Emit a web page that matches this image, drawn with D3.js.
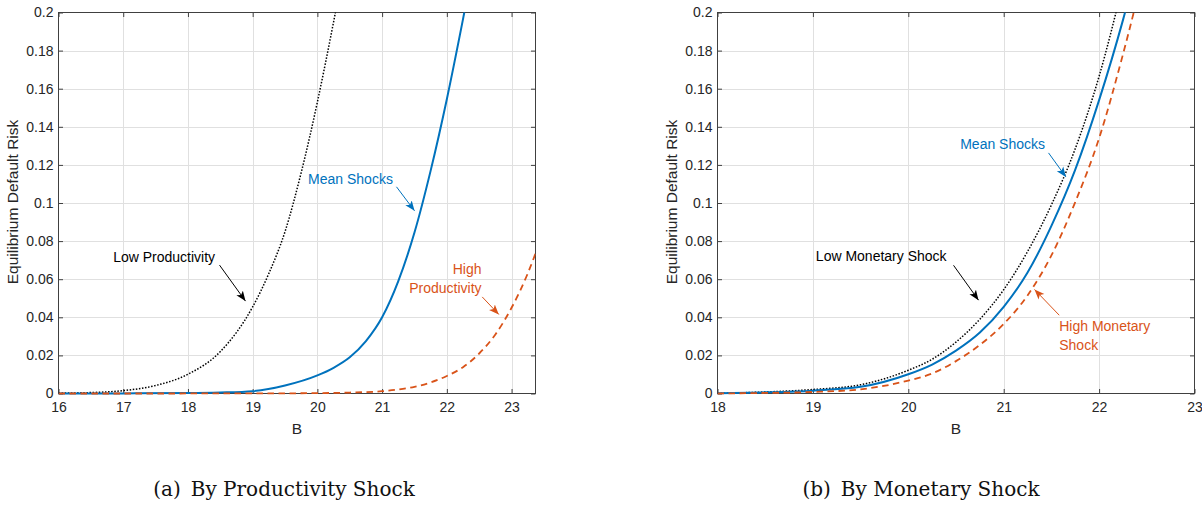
<!DOCTYPE html>
<html>
<head>
<meta charset="utf-8">
<script src="https://cdn.jsdelivr.net/npm/d3@7"></script>
<style>
  body { margin: 0; background: #fff; }
  svg { display: block; }
</style>
</head>
<body>
<div id="chart"></div>
<script>
// ---- values ----
const yTicks = [0, 0.02, 0.04, 0.06, 0.08, 0.1, 0.12, 0.14, 0.16, 0.18, 0.2];
const yTickLabels = ["0", "0.02", "0.04", "0.06", "0.08", "0.1", "0.12", "0.14", "0.16", "0.18", "0.2"];
const xTicksA = [16, 17, 18, 19, 20, 21, 22, 23];
const xTicksB = [18, 19, 20, 21, 22, 23];

// panel (a): by productivity shock
const lowProdB = [16, 16.5, 17, 17.5, 18, 18.5, 19, 19.25, 19.5, 19.75, 20, 20.25, 20.5];
const lowProdV = [0.0002, 0.0005, 0.0015, 0.0042, 0.0101, 0.022, 0.0455, 0.063, 0.085, 0.116, 0.153, 0.195, 0.24];
const meanAB = [16, 17, 18, 18.5, 19, 19.5, 20, 20.25, 20.5, 20.75, 21, 21.25, 21.5, 21.75, 22, 22.25, 22.5];
const meanAV = [0, 0.00005, 0.0002, 0.0005, 0.0012, 0.0042, 0.0095, 0.0135, 0.019, 0.0275, 0.040, 0.059, 0.0845, 0.117, 0.1545, 0.1965, 0.241];
const highProdB = [16, 19, 20, 20.5, 21, 21.25, 21.5, 21.75, 22, 22.25, 22.5, 22.75, 23, 23.25, 23.37];
const highProdV = [0, 0.00003, 0.0002, 0.0005, 0.0012, 0.0021, 0.0035, 0.0058, 0.0092, 0.0138, 0.021, 0.031, 0.045, 0.063, 0.0735];

// panel (b): by monetary shock
const monB = [18, 18.5, 19, 19.5, 20, 20.25, 20.5, 20.75, 21, 21.25, 21.5, 21.75, 22, 22.25, 22.5];
const lowMonV = [0.0001, 0.0008, 0.0021, 0.0046, 0.0122, 0.018, 0.027, 0.039, 0.0545, 0.0745, 0.099, 0.1285, 0.1665, 0.215, 0.27];
const meanBV = [0.0001, 0.0006, 0.0015, 0.0035, 0.0101, 0.0152, 0.0225, 0.032, 0.0455, 0.0635, 0.088, 0.1175, 0.154, 0.196, 0.245];
const highMonV = [0, 0.0003, 0.0008, 0.0022, 0.0068, 0.0105, 0.017, 0.0255, 0.0365, 0.0515, 0.0725, 0.1005, 0.134, 0.178, 0.228];

const BLUE = "#0072BD", ORANGE = "#D95319", BLACK = "#000000";
const FONT = "'Liberation Sans', Arial, Helvetica, sans-serif";

const svg = d3.select("#chart").append("svg")
    .attr("width", 1202)
    .attr("height", 505);

// arrow heads
const defs = svg.append("defs");
[["blk", BLACK], ["blu", BLUE], ["org", ORANGE]].forEach(function(m) {
    defs.append("marker")
        .attr("id", "head-" + m[0])
        .attr("markerUnits", "userSpaceOnUse")
        .attr("markerWidth", 11).attr("markerHeight", 9)
        .attr("refX", 10).attr("refY", 4.5)
        .attr("orient", "auto")
        .append("path")
        .attr("d", "M0,0.5 L10,4.5 L0,8.5 L2.5,4.5 Z")
        .attr("fill", m[1]);
});

function drawPanel(cfg) {
    const top = 12.5, bottom = 393.5;
    const x = d3.scaleLinear().domain(cfg.xDomain).range([cfg.left, cfg.right]);
    const y = d3.scaleLinear().domain([0, 0.2]).range([bottom, top]);
    const g = svg.append("g");

    // grid
    g.append("g").selectAll("line.gx")
        .data(cfg.xTicks.filter(d => x(d) > cfg.left + 1 && x(d) < cfg.right - 1))
        .join("line")
        .attr("x1", d => Math.round(x(d)) + 0.5).attr("x2", d => Math.round(x(d)) + 0.5)
        .attr("y1", top).attr("y2", bottom)
        .attr("stroke", "#e0e0e0").attr("stroke-width", 1);
    g.append("g").selectAll("line.gy")
        .data(yTicks.slice(1, -1))
        .join("line")
        .attr("x1", cfg.left).attr("x2", cfg.right)
        .attr("y1", d => Math.round(y(d)) + 0.5).attr("y2", d => Math.round(y(d)) + 0.5)
        .attr("stroke", "#e0e0e0").attr("stroke-width", 1);

    // axes with inward ticks
    const styleAxis = function(sel) {
        sel.select(".domain").remove();
        sel.selectAll(".tick line").attr("stroke", "#404040");
        sel.selectAll("text")
            .attr("fill", "#262626")
            .style("font-family", FONT)
            .style("font-size", "14px");
    };
    g.append("g").attr("transform", "translate(0," + bottom + ")")
        .call(d3.axisBottom(x).tickValues(cfg.xTicks).tickSize(-4.5).tickPadding(9).tickFormat(d3.format("d")))
        .call(styleAxis);
    g.append("g").attr("transform", "translate(0," + top + ")")
        .call(d3.axisTop(x).tickValues(cfg.xTicks).tickSize(-4.5).tickFormat(""))
        .call(styleAxis);
    g.append("g").attr("transform", "translate(" + cfg.left + ",0)")
        .call(d3.axisLeft(y).tickValues(yTicks).tickSize(-4.5).tickPadding(5).tickFormat((d, i) => yTickLabels[i]))
        .call(styleAxis);
    g.append("g").attr("transform", "translate(" + cfg.right + ",0)")
        .call(d3.axisRight(y).tickValues(yTicks).tickSize(-4.5).tickFormat(""))
        .call(styleAxis);

    // box
    g.append("rect")
        .attr("x", cfg.left).attr("y", top)
        .attr("width", cfg.right - cfg.left).attr("height", bottom - top)
        .attr("fill", "none").attr("stroke", "#404040").attr("stroke-width", 1);

    // axis labels
    g.append("text")
        .attr("x", (cfg.left + cfg.right) / 2).attr("y", 434)
        .attr("text-anchor", "middle")
        .style("font-family", FONT).style("font-size", "15.5px").attr("fill", "#262626")
        .text("B");
    g.append("text")
        .attr("transform", "translate(" + (cfg.left - 41) + "," + 202 + ") rotate(-90)")
        .attr("text-anchor", "middle")
        .style("font-family", FONT).style("font-size", "15.5px").attr("fill", "#262626")
        .text("Equilibrium Default Risk");

    // curves
    const clipId = "clip-" + cfg.id;
    defs.append("clipPath").attr("id", clipId)
        .append("rect")
        .attr("x", cfg.left).attr("y", top)
        .attr("width", cfg.right - cfg.left).attr("height", bottom - top + 3);

    const line = d3.line()
        .x(d => x(d[0]))
        .y(d => y(d[1]))
        .curve(d3.curveMonotoneX);

    g.append("g").attr("clip-path", "url(#" + clipId + ")")
        .selectAll("path")
        .data(cfg.series)
        .join("path")
        .attr("d", s => line(d3.zip(s.b, s.v)))
        .attr("fill", "none")
        .attr("stroke", s => s.color)
        .attr("stroke-width", s => s.width)
        .attr("stroke-dasharray", s => s.dash);

    // annotations
    cfg.notes.forEach(function(n) {
        const t = g.append("text")
            .attr("text-anchor", n.anchor)
            .style("font-family", FONT).style("font-size", "14px")
            .attr("fill", n.color);
        n.lines.forEach(function(l, i) {
            t.append("tspan")
                .attr("x", x(n.at[0]))
                .attr("y", y(n.at[1]) + i * 19)
                .text(l);
        });
        g.append("line")
            .attr("x1", x(n.from[0])).attr("y1", y(n.from[1]))
            .attr("x2", x(n.to[0])).attr("y2", y(n.to[1]))
            .attr("stroke", n.color).attr("stroke-width", 1)
            .attr("marker-end", "url(#head-" + n.head + ")");
    });

    // caption
    svg.append("text")
        .attr("x", cfg.captionX).attr("y", 496)
        .attr("text-anchor", "middle")
        .style("font-family", "'DejaVu Serif', 'Liberation Serif', serif")
        .style("font-size", "20px")
        .attr("fill", "#111")
        .text(cfg.caption);
}

drawPanel({
    id: "a",
    left: 58.5, right: 535.5,
    xDomain: [16, 23.37],
    xTicks: xTicksA,
    caption: "(a)\u2002By Productivity Shock",
    captionX: 284,
    series: [
        {b: lowProdB, v: lowProdV, color: BLACK, width: 1.5, dash: "1.5,1.6"},
        {b: meanAB, v: meanAV, color: BLUE, width: 2, dash: null},
        {b: highProdB, v: highProdV, color: ORANGE, width: 1.8, dash: "6.5,4.5"}
    ],
    notes: [
        {lines: ["Low Productivity"], anchor: "start", color: BLACK, head: "blk",
         at: [16.845, 0.0691], from: [18.488, 0.0674], to: [18.889, 0.0485]},
        {lines: ["Mean Shocks"], anchor: "start", color: BLUE, head: "blu",
         at: [19.856, 0.1102], from: [21.222, 0.1085], to: [21.501, 0.0959]},
        {lines: ["High", "Productivity"], anchor: "end", color: ORANGE, head: "org",
         at: [22.536, 0.0626], from: [22.547, 0.0507], to: [22.803, 0.0415]}
    ]
});

drawPanel({
    id: "b",
    left: 717.5, right: 1194.5,
    xDomain: [18, 23],
    xTicks: xTicksB,
    caption: "(b)\u2002By Monetary Shock",
    captionX: 921,
    series: [
        {b: monB, v: lowMonV, color: BLACK, width: 1.5, dash: "1.5,1.6"},
        {b: monB, v: meanBV, color: BLUE, width: 2, dash: null},
        {b: monB, v: highMonV, color: ORANGE, width: 1.8, dash: "6.5,4.5"}
    ],
    notes: [
        {lines: ["Mean Shocks"], anchor: "start", color: BLUE, head: "blu",
         at: [20.544, 0.1283], from: [21.470, 0.1263], to: [21.652, 0.1137]},
        {lines: ["Low Monetary Shock"], anchor: "start", color: BLACK, head: "blk",
         at: [19.031, 0.0696], from: [20.474, 0.0673], to: [20.736, 0.049]},
        {lines: ["High Monetary", "Shock"], anchor: "start", color: ORANGE, head: "org",
         at: [21.582, 0.0327], from: [21.582, 0.0411], to: [21.323, 0.0546]}
    ]
});
</script>
</body>
</html>
